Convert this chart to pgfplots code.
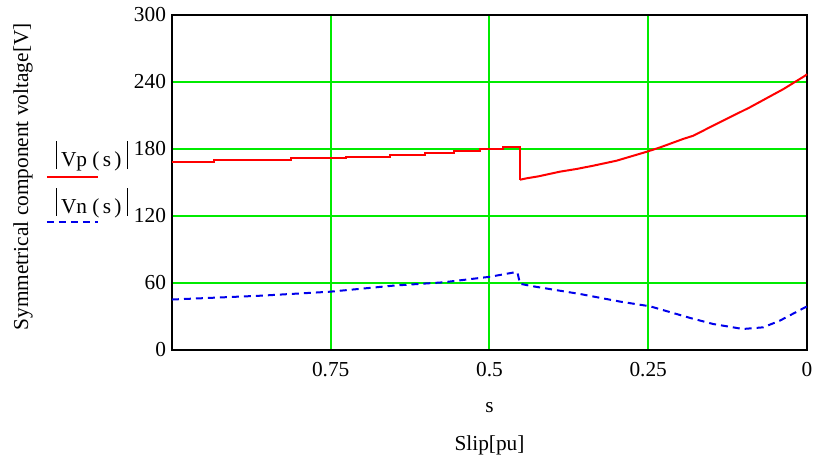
\documentclass[border=0pt]{standalone}
\usepackage{fontspec}
\setmainfont{Liberation Serif}
\usepackage{pgfplots}
\pgfplotsset{compat=1.18}
\definecolor{gridgreen}{RGB}{0,235,0}
\definecolor{vpred}{RGB}{255,0,0}
\definecolor{vnblue}{RGB}{0,0,235}

\pgfplotstableread{
s   v
1.000 168.6
0.934 170.1
0.813 171.7
0.726 173.1
0.657 174.6
0.602 176.4
0.556 178.2
0.515 180.0
0.479 182.0
0.452 152.5
}\vpleft

\pgfplotstableread{
s   v
0.452 152.5
0.441 153.8
0.423 155.5
0.389 159.7
0.363 162.1
0.337 165.0
0.300 169.5
0.252 177.6
0.231 181.5
0.195 189.0
0.179 191.9
0.148 200.9
0.090 217.3
0.037 233.7
0.003 245.6
0.000 247.0
}\vpright

\pgfplotstableread{
s   v
1.000 45.2
0.861 48.6
0.751 52.2
0.652 57.6
0.573 60.6
0.499 65.6
0.463 69.3
0.456 69.6
0.452 59.3
0.431 57.0
0.357 50.1
0.294 43.3
0.247 39.1
0.184 28.7
0.148 23.3
0.101 18.8
0.069 20.3
0.043 26.2
0.003 38.2
0.000 39.0
}\vn

\newcommand{\vbar}{\rule[-2pt]{1.1pt}{20.75pt}}

\begin{document}
\fontsize{16}{19}\selectfont
\begin{tikzpicture}
\begin{axis}[
  name=ax,
  scale only axis,
  width=476.25pt, height=251.25pt,
  xmin=0, xmax=1, ymin=0, ymax=300,
  x dir=reverse,
  xtick={0,0.25,0.5,0.75},
  xticklabels={0,0.25,0.5,0.75},
  ytick={0,60,120,180,240,300},
  grid=major,
  major grid style={gridgreen, line width=1.5pt},
  tick style={draw=none},
  axis line style={black, line width=1.2pt},
  tick label style={font=\fontsize{16}{19}\selectfont},
  /pgf/number format/assume math mode=true,
  xticklabel shift=4pt,
  yticklabel shift=-1pt,
  clip=false,
]
\addplot[vpred, line width=1.5pt, const plot mark left] table[x=s, y=v] {\vpleft};
\addplot[vpred, line width=1.5pt, sharp plot] table[x=s, y=v] {\vpright};
\addplot[vnblue, line width=1.5pt, dash pattern=on 5.25pt off 3.75pt] table[x=s, y=v] {\vn};

% axis labels
\node[rotate=90, anchor=center] at ([xshift=-111.75pt]axis description cs:0,0.517) {Symmetrical component voltage[V]};
\node[anchor=base] at ([yshift=-47.25pt]axis description cs:0.5,0) {s};
\node[anchor=base] at ([yshift=-75.75pt]axis description cs:0.5,0) {Slip[pu]};

% legend-like annotations (Mathcad style)
\node[anchor=base, inner sep=0pt] at ([xshift=-60pt, yshift=-8.5pt]axis description cs:0,0.582) {\vbar\kern3pt Vp\kern4pt(\kern2.5pt s\kern2.5pt)\kern4pt\vbar};
\draw[vpred, line width=1.5pt] ([xshift=-93.75pt]axis description cs:0,0.516) -- ([xshift=-55.5pt]axis description cs:0,0.516);
\node[anchor=base, inner sep=0pt] at ([xshift=-60pt, yshift=-8.5pt]axis description cs:0,0.442) {\vbar\kern3pt Vn\kern4pt(\kern2.5pt s\kern2.5pt)\kern4pt\vbar};
\draw[vnblue, line width=1.5pt, dash pattern=on 5.25pt off 3.75pt] ([xshift=-93.75pt]axis description cs:0,0.382) -- ([xshift=-55.5pt]axis description cs:0,0.382);
\end{axis}
\pgfresetboundingbox
\path[use as bounding box] (ax.south west) ++(-129pt,-81.75pt) rectangle ++(612pt,344.25pt);
\end{tikzpicture}
\end{document}
